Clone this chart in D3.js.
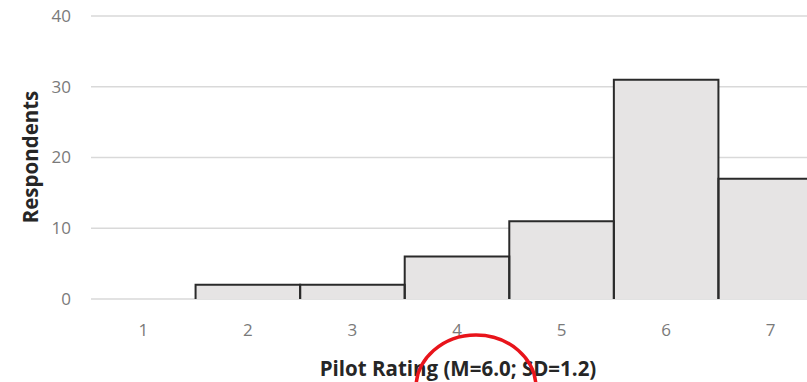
<!DOCTYPE html>
<html>
<head>
<meta charset="utf-8">
<script src="https://cdn.jsdelivr.net/npm/d3@7"></script>
<style>
  html, body { margin: 0; padding: 0; background: #fff; }
  svg { display: block; }
  text { font-family: "Open Sans", "Liberation Sans", sans-serif; }
</style>
</head>
<body>
<svg id="chart" width="807" height="382"></svg>
<script>
// Pilot rating histogram
const ratings = ["1", "2", "3", "4", "5", "6", "7"];
const respondents = [0, 2, 2, 6, 11, 31, 17];
const yTicks = [0, 10, 20, 30, 40];
const xTitle = "Pilot Rating (M=6.0; SD=1.2)";
const yTitle = "Respondents";

const svg = d3.select("#chart");
const W = 807, H = 382;
const plot = { left: 91, right: 823, top: 16, bottom: 299 };

const x = d3.scaleBand().domain(ratings).range([plot.left, plot.right]).padding(0);
const y = d3.scaleLinear().domain([0, 40]).range([plot.bottom, plot.top]);

// horizontal gridlines
svg.append("g").selectAll("line").data(yTicks).join("line")
  .attr("x1", plot.left).attr("x2", W)
  .attr("y1", d => y(d)).attr("y2", d => y(d))
  .attr("stroke", "#d9d9d9").attr("stroke-width", 1.5);

// y tick labels
svg.append("g").selectAll("text").data(yTicks).join("text")
  .attr("x", 71).attr("y", d => y(d)).attr("dy", "0.35em")
  .attr("text-anchor", "end").attr("fill", "#7a7a7a").attr("font-size", 17)
  .text(d => d);

// bars: filled body, dark outline on top and sides
const bars = svg.append("g");
bars.selectAll("rect").data(ratings).join("rect")
  .attr("x", d => x(d)).attr("width", x.bandwidth())
  .attr("y", (d, i) => y(respondents[i]))
  .attr("height", (d, i) => y(0) - y(respondents[i]))
  .attr("fill", "#e6e4e4");
bars.selectAll("path").data(ratings.filter((d, i) => respondents[i] > 0)).join("path")
  .attr("d", d => {
    const i = ratings.indexOf(d);
    const x0 = x(d), x1 = x(d) + x.bandwidth();
    const yt = y(respondents[i]), yb = y(0);
    return `M${x0},${yb}V${yt}H${x1}V${yb}`;
  })
  .attr("fill", "none").attr("stroke", "#2a2a2a").attr("stroke-width", 2);

// x tick labels
svg.append("g").selectAll("text").data(ratings).join("text")
  .attr("x", d => x(d) + x.bandwidth() / 2).attr("y", 336)
  .attr("text-anchor", "middle").attr("fill", "#7a7a7a").attr("font-size", 17)
  .text(d => d);

// axis titles
svg.append("text")
  .attr("x", 458).attr("y", 376).attr("text-anchor", "middle")
  .attr("font-size", 20.5).attr("font-weight", "bold").attr("fill", "#262626")
  .text(xTitle);
svg.append("text")
  .attr("transform", "translate(38,157) rotate(-90)").attr("text-anchor", "middle")
  .attr("font-size", 20.5).attr("font-weight", "bold").attr("fill", "#262626")
  .text(yTitle);

// red ellipse highlighting the mean
svg.append("ellipse")
  .attr("cx", 476).attr("cy", 388).attr("rx", 60).attr("ry", 53)
  .attr("fill", "none").attr("stroke", "#e8141b").attr("stroke-width", 3.5);
</script>
</body>
</html>
